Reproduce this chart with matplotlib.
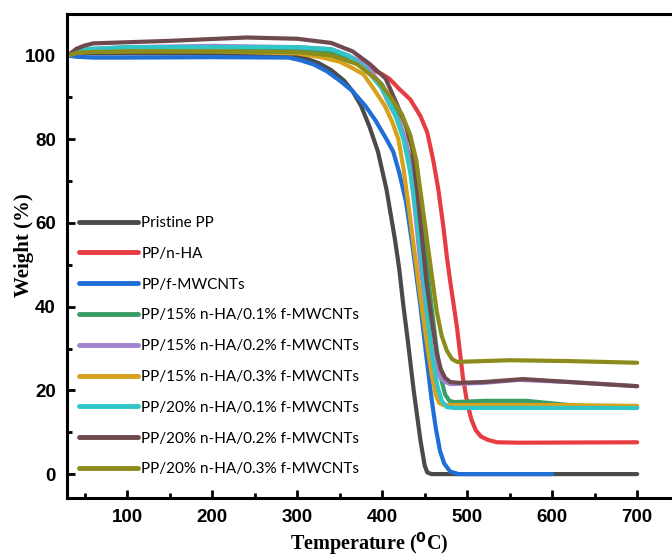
import numpy as np
import matplotlib
matplotlib.use("Agg")
import matplotlib.pyplot as plt
from matplotlib.ticker import MultipleLocator

labels = ["Pristine PP", "PP/n-HA", "PP/f-MWCNTs",
          "PP/15% n-HA/0.1% f-MWCNTs", "PP/15% n-HA/0.2% f-MWCNTs",
          "PP/15% n-HA/0.3% f-MWCNTs", "PP/20% n-HA/0.1% f-MWCNTs",
          "PP/20% n-HA/0.2% f-MWCNTs", "PP/20% n-HA/0.3% f-MWCNTs"]
colors = ["#4a4a4a", "#e63c42", "#1f6fd6", "#3a9e64", "#a383d2",
          "#d6a21c", "#2fc6c8", "#6e4a4e", "#8c8c1c"]

t_pp = [30, 40, 50, 100, 200, 290, 310, 325, 340, 355, 365, 375, 385, 395, 405, 410, 415, 420, 425, 430, 437, 445, 450, 453, 458, 500, 600, 700]
w_pp = [100, 100.4, 100.5, 100.5, 100.5, 100.2, 99.3, 98.2, 96.5, 94, 91.5, 88, 83, 77, 68, 62, 56, 49, 40, 32, 20, 8, 2, 0.4, 0, 0, 0, 0]

t_ha = [30, 40, 50, 100, 200, 300, 340, 365, 385, 400, 408, 413, 420, 433, 445, 453, 460, 466, 472, 476, 480, 488, 495, 500, 505, 510, 516, 524, 535, 560, 700]
w_ha = [100, 100.7, 101, 101.3, 101.5, 101.3, 100.5, 99, 97, 95.5, 94.5, 93.5, 92, 89.5, 85.5, 81.6, 75, 68, 59, 52, 46, 35, 23, 17, 13, 10.5, 9, 8.2, 7.6, 7.5, 7.6]

t_cnt = [30, 40, 60, 100, 200, 290, 305, 320, 335, 350, 365, 380, 392, 405, 413, 420, 428, 436, 445, 452, 458, 463, 468, 473, 480, 490, 600]
w_cnt = [100, 99.7, 99.5, 99.5, 99.6, 99.5, 98.8, 97.8, 96.2, 94, 91.5, 88, 84.5, 80, 77, 72, 65, 54, 40, 28, 18, 11, 5.5, 2.5, 0.6, 0, 0]

t_15_1 = [30, 40, 50, 100, 200, 300, 340, 360, 380, 400, 415, 427, 437, 445, 452, 458, 464, 469, 474, 479, 485, 520, 570, 620, 660, 700]
w_15_1 = [100, 100.8, 101, 101.5, 101.5, 101.3, 100.5, 99, 97, 93, 87, 80, 71, 62, 51, 40, 30, 23, 19, 17.5, 17.2, 17.5, 17.5, 16.5, 16, 16]

t_15_2 = [30, 40, 50, 100, 200, 300, 340, 360, 380, 395, 409, 420, 427, 433, 438, 445, 452, 458, 464, 469, 474, 480, 520, 560, 620, 700]
w_15_2 = [100, 101, 101.5, 102, 102.3, 102, 101.5, 100, 98, 94, 88, 84, 80, 73, 64, 50, 38, 30, 25, 23, 22, 21.5, 21.8, 22.5, 22, 21]

t_15_3 = [30, 40, 50, 100, 200, 300, 330, 350, 365, 378, 390, 403, 412, 419, 425, 431, 438, 445, 452, 458, 463, 467, 472, 480, 500, 600, 700]
w_15_3 = [100, 100.6, 100.8, 101, 101, 100.5, 99.5, 98.5, 97, 95.5, 92, 88, 84, 80, 73, 64, 53, 42, 32, 24, 19, 17, 16.5, 16.5, 16.5, 16.5, 16.3]

t_20_1 = [30, 40, 50, 100, 200, 300, 340, 360, 380, 400, 415, 425, 433, 440, 447, 453, 459, 465, 470, 476, 485, 700]
w_20_1 = [100, 101, 101.5, 102, 102, 102, 101.5, 100, 97, 92, 86, 80, 72, 62, 50, 38, 28, 21, 17.5, 16, 15.8, 15.8]

t_20_2 = [30, 40, 50, 60, 150, 240, 300, 340, 365, 385, 404, 418, 428, 435, 441, 446, 452, 458, 464, 469, 474, 480, 490, 520, 566, 620, 700]
w_20_2 = [100, 101.6, 102.4, 102.9, 103.5, 104.3, 104, 103, 101, 98, 94.5, 88, 83, 78, 68, 58, 46, 37, 29, 25, 23, 22, 21.8, 22, 22.7, 22, 21]

t_20_3 = [30, 40, 50, 100, 200, 300, 340, 370, 395, 410, 423, 433, 440, 446, 452, 458, 464, 470, 476, 482, 488, 550, 620, 700]
w_20_3 = [100, 100.6, 100.8, 101, 101, 100.8, 100, 98, 94, 90, 86, 81, 75, 66, 57, 48, 39, 33, 29.5, 27.5, 26.8, 27.2, 27, 26.6]

series_t = [t_pp, t_ha, t_cnt, t_15_1, t_15_2, t_15_3, t_20_1, t_20_2, t_20_3]
series_w = [w_pp, w_ha, w_cnt, w_15_1, w_15_2, w_15_3, w_20_1, w_20_2, w_20_3]

fig = plt.figure(figsize=(6.72, 5.57), dpi=100)
ax = fig.add_axes([0.0997, 0.106, 0.9003, 0.868])

for t, w, c, lab in zip(series_t, series_w, colors, labels):
    ax.plot(t, w, color=c, lw=3.0, label=lab, solid_capstyle="round",
            solid_joinstyle="round")

ax.set_xlim(29, 741)
ax.set_ylim(-5.7, 109.8)
ax.xaxis.set_major_locator(MultipleLocator(100))
ax.xaxis.set_minor_locator(MultipleLocator(50))
ax.yaxis.set_major_locator(MultipleLocator(20))
ax.yaxis.set_minor_locator(MultipleLocator(10))
ax.tick_params(which="major", direction="in", length=6, width=2, labelsize=13.5, pad=8)
ax.tick_params(which="minor", direction="in", length=3.5, width=2)
ax.tick_params(axis="y", which="both", right=False)
ax.tick_params(axis="x", which="both", top=False)
for lab in ax.get_xticklabels() + ax.get_yticklabels():
    lab.set_fontweight("bold")
    lab.set_family("Liberation Sans")
for s in ["left", "bottom", "top"]:
    ax.spines[s].set_linewidth(2.2)
ax.spines["right"].set_visible(False)

ax.set_xlabel("Temperature ($\\mathbf{^{0}}$C)", family="Liberation Serif",
              fontweight="bold", fontsize=14.5)
ax.xaxis.set_label_coords(0.5, -0.067)
ax.set_ylabel("Weight (%)", family="Liberation Serif", fontweight="bold",
              fontsize=15)
ax.yaxis.set_label_coords(-0.055, 0.523)

leg = ax.legend(loc="upper left", bbox_to_anchor=(0.01, 0.596), frameon=False,
                prop={"family": ["Lato", "DejaVu Sans"], "size": 11},
                handlelength=3.85, handletextpad=0.22, labelspacing=1.1,
                borderaxespad=0)
for h in leg.get_lines():
    h.set_linewidth(3.5)

fig.savefig("out.png", dpi=100)
